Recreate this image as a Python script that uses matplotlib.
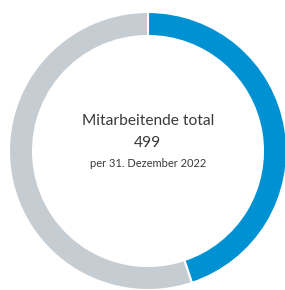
import matplotlib.pyplot as plt

# Anteile (geschaetzt aus dem Bild)
labels = ['Teil A', 'Teil B']
values = [224, 275]
colors = ['#0091d3', '#c5ccd2']

title = 'Mitarbeitende total'
total = '499'
note = 'per 31. Dezember 2022'

plt.rcParams['font.family'] = ['Lato', 'DejaVu Sans']

fig = plt.figure(figsize=(2.85, 2.9), dpi=100)
# Achse so gesetzt, dass der Ring wie im Original liegt
ax = fig.add_axes([(148 - 139) / 285, 1 - (151 + 139) / 290, 278 / 285, 278 / 290])
ax.pie(values, colors=colors, startangle=90, counterclock=False,
       radius=1.0,
       wedgeprops=dict(width=24 / 139, edgecolor='white', linewidth=1.5))
ax.set_xlim(-1.0, 1.0)
ax.set_ylim(-1.0, 1.0)
ax.set_aspect('equal')
ax.axis('off')

ax.text(0, 0.215, title, ha='center', va='center', fontsize=11.2, color='#3a3a3a')
ax.text(0, 0.06, total, ha='center', va='center', fontsize=11.2, color='#3a3a3a')
ax.text(0, -0.09, note, ha='center', va='center', fontsize=8, color='#3a3a3a')

plt.savefig('out.png', dpi=100)
